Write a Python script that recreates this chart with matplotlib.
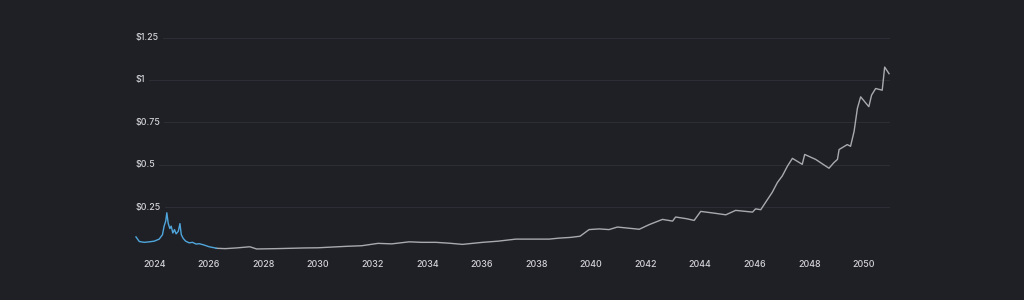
import matplotlib.pyplot as plt
import matplotlib.transforms as mtransforms

# historical price (blue)
hist_year = [2023.33, 2023.45, 2023.63, 2023.82, 2024.0, 2024.18, 2024.3, 2024.36,
             2024.42, 2024.46, 2024.51, 2024.57, 2024.62, 2024.68, 2024.74, 2024.8,
             2024.88, 2024.94, 2024.99, 2025.06, 2025.15, 2025.28, 2025.4, 2025.53,
             2025.65, 2025.83, 2026.01, 2026.2, 2026.27]
hist_price = [0.077, 0.050, 0.045, 0.048, 0.052, 0.064, 0.090, 0.140,
              0.170, 0.219, 0.157, 0.126, 0.140, 0.100, 0.120, 0.095,
              0.110, 0.155, 0.090, 0.068, 0.052, 0.042, 0.045, 0.035,
              0.037, 0.029, 0.019, 0.013, 0.010]

# forecast (grey)
fc_year = [2026.27, 2026.6, 2027.0, 2027.5, 2027.75, 2028.5, 2029.0, 2029.5, 2030.0,
           2030.6, 2031.1, 2031.6, 2032.2, 2032.7, 2033.34, 2033.8, 2034.32, 2034.8,
           2035.29, 2036.03, 2036.6, 2037.25, 2037.8, 2038.47, 2038.84, 2039.25,
           2039.6, 2039.93, 2040.3, 2040.66, 2040.97, 2041.4, 2041.77, 2042.13, 2042.62,
           2042.99, 2043.1, 2043.5, 2043.78, 2044.02, 2044.5, 2044.94, 2045.3,
           2045.67, 2045.92, 2046.03, 2046.22, 2046.4, 2046.64, 2046.83, 2047.01,
           2047.2, 2047.38, 2047.74, 2047.83, 2048.23, 2048.72, 2048.9, 2049.03,
           2049.09, 2049.39, 2049.51, 2049.64, 2049.76, 2049.88, 2050.18, 2050.28,
           2050.43, 2050.67, 2050.76, 2050.92]
fc_price = [0.010, 0.008, 0.012, 0.019, 0.006, 0.008, 0.010, 0.012, 0.013,
            0.018, 0.022, 0.025, 0.039, 0.036, 0.048, 0.045, 0.045, 0.040,
            0.033, 0.045, 0.052, 0.064, 0.064, 0.064, 0.070, 0.074,
            0.081, 0.120, 0.124, 0.120, 0.135, 0.128, 0.122, 0.149, 0.180,
            0.170, 0.194, 0.184, 0.174, 0.227, 0.217, 0.207, 0.233,
            0.227, 0.223, 0.242, 0.237, 0.281, 0.339, 0.397, 0.436,
            0.494, 0.539, 0.504, 0.562, 0.533, 0.481, 0.514, 0.533,
            0.591, 0.620, 0.610, 0.698, 0.833, 0.901, 0.843, 0.911,
            0.950, 0.940, 1.076, 1.037]

y_ticks = [0.25, 0.5, 0.75, 1.0, 1.25]
y_labels = ["$0.25", "$0.5", "$0.75", "$1", "$1.25"]
x_ticks = list(range(2024, 2051, 2))

bg = "#1f2026"
txt = "#d2d2d7"

fig = plt.figure(figsize=(10.24, 3.0), dpi=100, facecolor=bg)
ax = fig.add_axes([0.132, 0.1667, 0.737, 0.7083], facecolor=bg)

ax.plot(fc_year, fc_price, color="#a9a9b0", linewidth=1.0, clip_on=False)
ax.plot(hist_year, hist_price, color="#4fa6dc", linewidth=1.0, clip_on=False)

ax.set_xlim(2023.3, 2050.95)
ax.set_ylim(0, 1.25)

ax.set_yticks([0] + y_ticks)
ax.yaxis.grid(True, color="#2c2d35", linewidth=0.8)
ax.tick_params(axis="y", left=False, labelleft=False)
ax.set_axisbelow(True)

trans = mtransforms.blended_transform_factory(ax.transAxes, ax.transData)
for v, lab in zip(y_ticks, y_labels):
    ax.text(0.001, v, lab, transform=trans, ha="left", va="center",
            fontsize=6.4, color=txt, family="Inter", weight="medium",
            bbox=dict(facecolor=bg, edgecolor="none", pad=2.5))

ax.set_xticks(x_ticks)
ax.set_xticklabels([str(x) for x in x_ticks])
ax.tick_params(axis="x", length=0, pad=7, labelsize=6.4, labelcolor=txt)
for lab in ax.get_xticklabels():
    lab.set_family("Inter")
    lab.set_weight("medium")

for s in ax.spines.values():
    s.set_visible(False)

fig.savefig("out.png", dpi=100, facecolor=bg)
